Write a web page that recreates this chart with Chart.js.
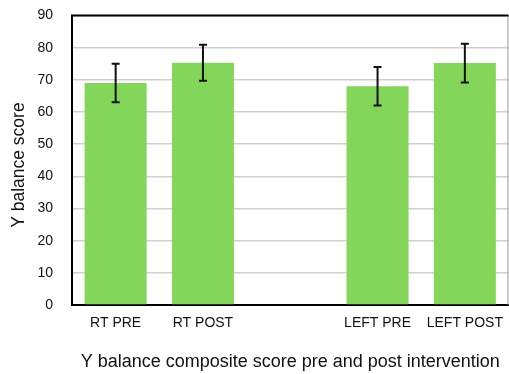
<!DOCTYPE html>
<html>
<head>
<meta charset="utf-8">
<script src="https://cdn.jsdelivr.net/npm/chart.js@4/dist/chart.umd.min.js"></script>
<style>
html,body{margin:0;padding:0;background:#fff;}
#wrap{width:509px;height:374px;}
</style>
</head>
<body>
<div id="wrap"><canvas id="c" width="509" height="374"></canvas></div>
<script>
const categories = ["RT PRE", "RT POST", "", "LEFT PRE", "LEFT POST"];
const means = [69, 75.3, null, 68, 75.2];
const errors = [6, 5.6, null, 6, 6];
const yTicks = [0, 10, 20, 30, 40, 50, 60, 70, 80, 90];
const xTitle = "Y balance composite score pre and post intervention";
const yTitle = "Y balance score\u00a0\u00a0";

const FONT = "'Liberation Sans', Arial, Helvetica, sans-serif";

const errorBars = {
  id: 'errorBars',
  afterDatasetsDraw(chart) {
    const ctx = chart.ctx;
    const xs = chart.scales.x, ys = chart.scales.y;
    ctx.save();
    ctx.strokeStyle = '#111';
    ctx.lineWidth = 2;
    means.forEach((m, i) => {
      if (m == null) return;
      const x = xs.getPixelForValue(i);
      const yTop = ys.getPixelForValue(m + errors[i]);
      const yBot = ys.getPixelForValue(m - errors[i]);
      ctx.beginPath();
      ctx.moveTo(x, yTop); ctx.lineTo(x, yBot);
      ctx.moveTo(x - 4, yTop); ctx.lineTo(x + 4, yTop);
      ctx.moveTo(x - 4, yBot); ctx.lineTo(x + 4, yBot);
      ctx.stroke();
    });
    ctx.restore();
  }
};

const frame = {
  id: 'frame',
  afterDraw(chart) {
    const {ctx, chartArea: a} = chart;
    ctx.save();
    ctx.strokeStyle = '#999';
    ctx.lineWidth = 1;
    ctx.beginPath();
    ctx.moveTo(a.right - 0.5, a.top); ctx.lineTo(a.right - 0.5, a.bottom);
    ctx.stroke();
    ctx.strokeStyle = '#000';
    ctx.lineWidth = 2;
    ctx.beginPath();
    ctx.moveTo(a.left - 1, a.top); ctx.lineTo(a.right, a.top);
    ctx.stroke();
    ctx.restore();
  }
};

new Chart(document.getElementById('c'), {
  type: 'bar',
  data: {
    labels: categories,
    datasets: [{
      data: means,
      backgroundColor: '#84D65A',
      borderWidth: 0,
      barPercentage: 0.71,
      categoryPercentage: 1.0
    }]
  },
  options: {
    responsive: false,
    animation: false,
    devicePixelRatio: 1,
    layout: { padding: { top: 15.5, right: 0.5, left: 0, bottom: 0 } },
    plugins: { legend: { display: false }, tooltip: { enabled: false } },
    scales: {
      x: {
        grid: { display: false, drawTicks: false },
        border: { display: true, color: '#000', width: 2 },
        ticks: { color: '#111', font: { family: FONT, size: 14 }, padding: 10, autoSkip: false, maxRotation: 0 },
        title: { display: true, text: xTitle, color: '#111', font: { family: FONT, size: 18 }, padding: { top: 0, bottom: 1 } },
        afterFit(s) { s.height = 69; s.paddingLeft = 0; s.paddingRight = 0; }
      },
      y: {
        min: 0, max: 90,
        afterBuildTicks(s) { s.ticks = yTicks.map(v => ({ value: v })); },
        grid: { color: '#d0d0d0', lineWidth: 1.5, drawTicks: false },
        border: { display: true, color: '#000', width: 2 },
        ticks: { color: '#111', font: { family: FONT, size: 14 }, padding: 19 },
        title: { display: true, text: yTitle, color: '#111', font: { family: FONT, size: 17.5 }, padding: { top: 9, bottom: 0 } },
        afterFit(s) { s.width = 72; s.paddingTop = 0; s.paddingBottom = 0; }
      }
    }
  },
  plugins: [errorBars, frame]
});
</script>
</body>
</html>
